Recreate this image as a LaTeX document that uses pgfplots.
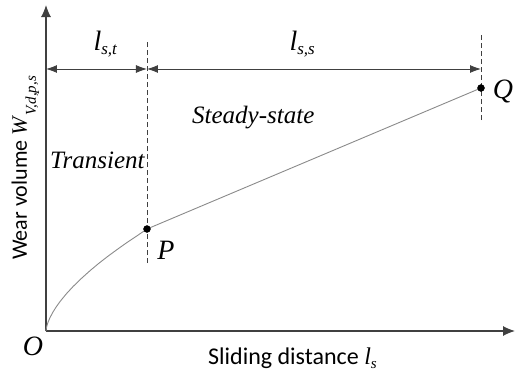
\documentclass[border=0pt]{standalone}
\usepackage{pgfplots}
\pgfplotsset{compat=1.18}
\usetikzlibrary{arrows.meta}
\usepackage{fontspec}
\setmainfont{Liberation Serif}
\newfontfamily\calib{Carlito}
\definecolor{axc}{HTML}{404040}
\definecolor{crv}{HTML}{8A8A8A}
\newcommand{\sbs}[2]{\raisebox{-4pt}{\fontsize{#1}{#1}\selectfont\itshape #2}}
\begin{document}
\begin{tikzpicture}
\useasboundingbox (-46pt,-42pt) rectangle (469pt,331pt);
\begin{axis}[
  scale only axis, width=469pt, height=326pt,
  xmin=0, xmax=469, ymin=0, ymax=326,
  axis lines=left,
  axis line style={axc, line width=1.1pt},
  x axis line style={-{Latex[length=12pt,width=10pt]}},
  y axis line style={-{Latex[length=12pt,width=10pt]}},
  xtick=\empty, ytick=\empty,
  clip=false,
  anchor=south west, at={(0,0)},
]
% wear curve: transient (run-in) then steady-state line
\addplot[crv, line width=0.9pt] coordinates {
  (0,0) (0.05,0.85) (0.3,2.6) (1,5.6) (2,8.7) (4,13.4) (7,19.0) (10,23.8)
  (14,29.4) (20,36.8) (27,44.4) (35,52.2) (44,60.3) (53,67.8) (62,74.8)
  (71,81.4) (80,87.8) (90,94.5) (101,102) (435,243)
};
% dashed markers
\addplot[axc, line width=0.9pt, dash pattern=on 5pt off 3pt] coordinates {(101,68) (101,291)};
\addplot[axc, line width=0.9pt, dash pattern=on 5pt off 3pt] coordinates {(435,211) (435,296)};
% dimension arrows
\addplot[axc, line width=0.9pt, {Latex[length=11pt,width=8pt]}-{Latex[length=11pt,width=8pt]}] coordinates {(0,262) (101,262)};
\addplot[axc, line width=0.9pt, {Latex[length=11pt,width=8pt]}-{Latex[length=11pt,width=8pt]}] coordinates {(101,262) (435,262)};
% points P and Q
\addplot[only marks, mark=*, mark size=3.5pt, black] coordinates {(101,102) (435,243)};
% labels
\node[anchor=base west, font=\fontsize{28}{30}\selectfont\itshape] at (axis cs:44,281) {l\sbs{17}{s,t}};
\node[anchor=base west, font=\fontsize{28}{30}\selectfont\itshape] at (axis cs:240,281) {l\sbs{17}{s,s}};
\node[anchor=base west, font=\fontsize{25}{28}\selectfont\itshape, inner sep=0pt] at (axis cs:4,163) {Transient};
\node[anchor=base west, font=\fontsize{25}{28}\selectfont\itshape, inner sep=0pt] at (axis cs:146,208) {Steady-state};
\node[font=\fontsize{28}{30}\selectfont\itshape] at (axis cs:120,81) {P};
\node[font=\fontsize{28}{30}\selectfont\itshape] at (axis cs:457,240) {Q};
\node[font=\fontsize{28}{30}\selectfont\itshape] at (axis cs:-13,-15) {O};
\node[anchor=base west, inner sep=0pt, font=\fontsize{24}{26}\selectfont] at (axis cs:162,-33)
  {{\calib Sliding distance }\textit{l}\sbs{15}{s}};
\node[anchor=base west, inner sep=0pt, rotate=90, font=\fontsize{22}{24}\selectfont] at (axis cs:-19,71)
  {{\calib Wear volume }\textit{W}\raisebox{-9pt}{\fontsize{15}{15}\selectfont\itshape V,d,p,s}};
\end{axis}
\end{tikzpicture}
\end{document}
